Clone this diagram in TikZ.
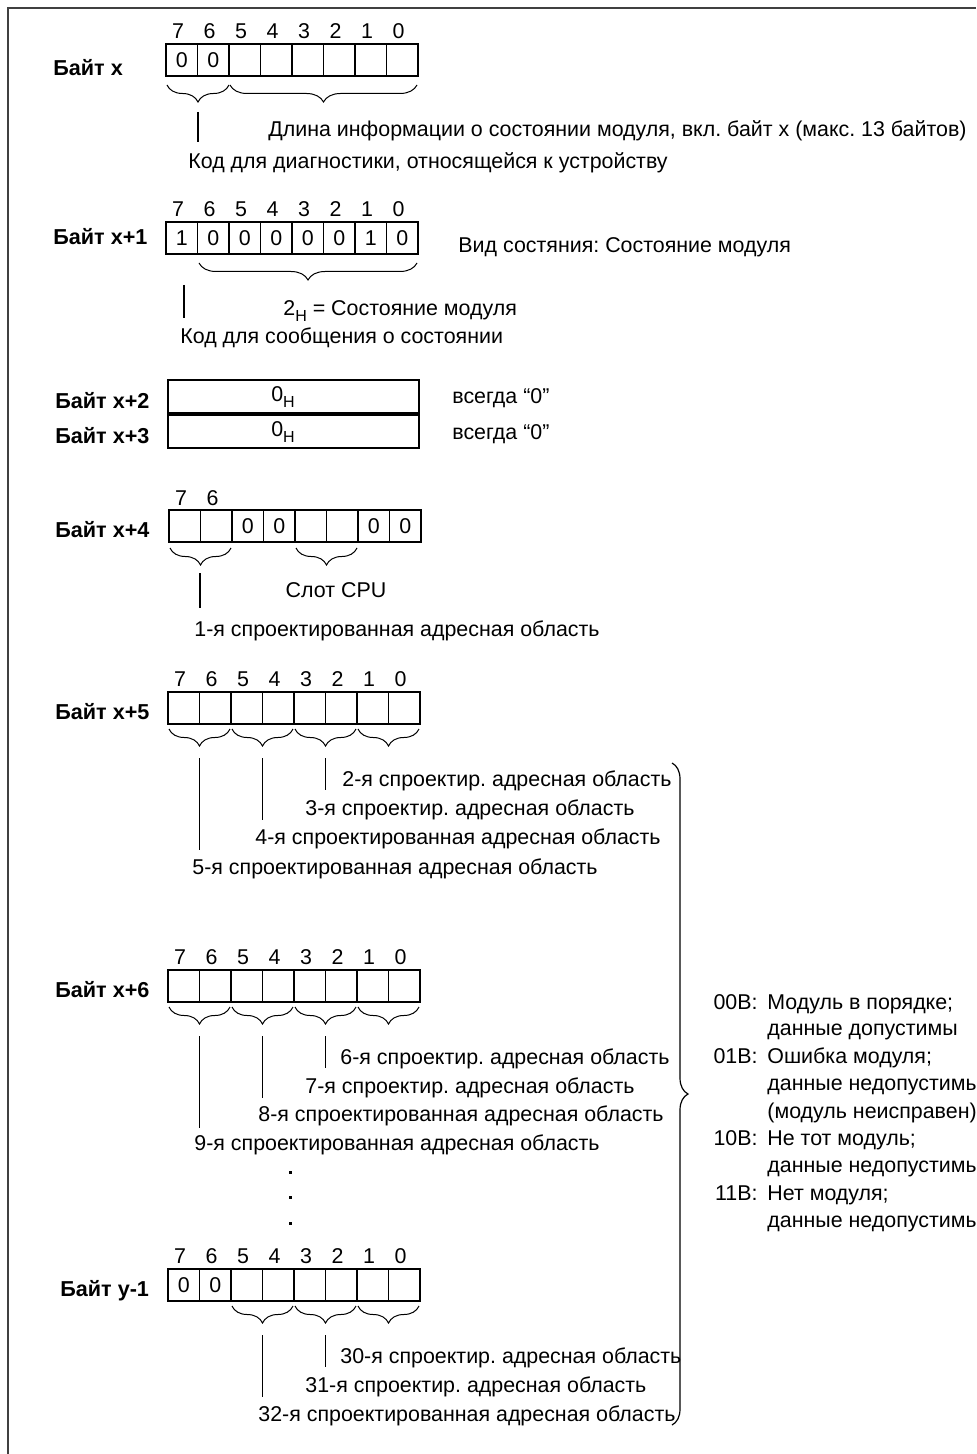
\documentclass[tikz,border=0pt]{standalone}
\usepackage{fontspec}
\setmainfont{Liberation Sans}
\usetikzlibrary{decorations.pathreplacing}
\frenchspacing

\tikzset{
  txt/.style={anchor=west, inner sep=0pt, text height=1.5ex, text depth=0.25ex},
  code/.style={anchor=east, inner sep=0pt, text height=1.5ex, text depth=0.25ex},
  bytelbl/.style={txt, font=\fontsize{10.8}{13}\selectfont\bfseries},
  bitnum/.style={inner sep=0pt},
  cellval/.style={inner sep=0pt},
  cell/.style={line width=0.6pt},
  brc/.style={decorate, decoration={brace, amplitude=8.5pt, mirror}, line width=0.5pt},
  bigbrc/.style={decorate, decoration={brace, amplitude=8pt}, line width=0.6pt},
  lead/.style={line width=0.7pt},
}

\newcommand{\hsub}[1]{\raisebox{-0.5ex}{\footnotesize #1}}
\newcommand{\bytecells}[2]{%
  \draw[cell] (#1,#2) rectangle ++(252,32);
  \foreach \i in {1,...,7} \draw[cell] ({#1+31.5*\i},#2) -- ++(0,32);
}
\newcommand{\bitrow}[3]{%
  \foreach \b [count=\i from 0] in {7,6,...,0}
    \node[bitnum] (#1\b) at ({#2+12+31.5*\i},#3) {\b};
}
\newcommand{\cellvals}[4]{%
  \foreach \v [count=\i from 0] in {#4}
    \node[cellval] (#1v\i) at ({#2+15.75+31.5*\i},#3) {\v};
}

\begin{document}
\begin{tikzpicture}[x=0.5pt, y=-0.5pt, font=\fontsize{10.7}{12.8}\selectfont]
\useasboundingbox (0,0) rectangle (976,1454);
\clip (0,0) rectangle (976,1454);
\draw[line width=1pt, black!75] (8,1454) -- (8,8) -- (976,8);

% Byte x
\node[bytelbl] (lx) at (53,69) {Байт x};
\bytecells{166}{44}
\bitrow{b0}{166}{31}
\cellvals{b0}{166}{60}{0,0}
\draw[brc] (167,85) -- (229,85);
\draw[brc] (230,85) -- (417,85);
\coordinate (b0a) at (198,112);
\coordinate (b0b) at (198,142);
\draw[lead] (b0a) -- (b0b);
\node[txt] (lenx) at (268,130) {Длина информации о состоянии модуля, вкл. байт х (макс. 13 байтов)};
\node[txt] (diag) at (188,162) {Код для диагностики, относящейся к устройству};

% Byte x+1
\node[bytelbl] (lx1) at (53,238) {Байт x+1};
\bytecells{166}{222}
\bitrow{b1}{166}{209}
\cellvals{b1}{166}{238}{1,0,0,0,0,0,1,0}
\draw[brc] (199,263) -- (417,263);
\coordinate (b1a) at (184,285);
\coordinate (b1b) at (184,318);
\draw[lead] (b1a) -- (b1b);
\node[txt] (kind) at (458,246) {Вид состяния: Состояние модуля};
\node[txt] (stat) at (283,309) {2\hsub{H} = Состояние модуля};
\node[txt] (msg) at (180,337) {Код для сообщения о состоянии};

% Byte x+2, x+3
\node[bytelbl] (lx2) at (55,402) {Байт x+2};
\node[bytelbl] (lx3) at (55,437) {Байт x+3};
\draw[cell] (168,380) rectangle (419,413);
\draw[cell] (168,415) rectangle (419,448);
\node[cellval] (b2v) at (283,397) {0\hsub{H}};
\node[cellval] (b3v) at (283,432) {0\hsub{H}};
\node[txt] (alw2) at (452,397) {всегда “0”};
\node[txt] (alw3) at (452,433) {всегда “0”};

% Byte x+4
\node[bytelbl] (lx4) at (55,531) {Байт x+4};
\bytecells{169}{510}
\node[bitnum] (b47) at (181,498) {7};
\node[bitnum] (b46) at (212.5,498) {6};
\node[cellval] (b4v5) at (247.75,526) {0};
\node[cellval] (b4v4) at (279.25,526) {0};
\node[cellval] (b4v1) at (373.75,526) {0};
\node[cellval] (b4v0) at (405.25,526) {0};
\draw[brc] (170,548) -- (231,548);
\draw[brc] (296,548) -- (357,548);
\coordinate (b4a) at (200,573);
\coordinate (b4b) at (200,608);
\draw[lead] (b4a) -- (b4b);
\node[inner sep=0pt] (cpu) at (336,590) {Слот CPU};
\node[txt] (ar1) at (194,630) {1-я спроектированная адресная область};

% Byte x+5
\node[bytelbl] (lx5) at (55,713) {Байт x+5};
\bytecells{168}{692}
\bitrow{b5}{168}{679}
\foreach \k in {0,...,3} \draw[brc] ({169+63*\k},729) -- ({167+63*(\k+1)},729);
\coordinate (b5a) at (325.5,758);
\coordinate (b5b) at (325.5,790);
\coordinate (b5c) at (262.5,758);
\coordinate (b5d) at (262.5,820);
\coordinate (b5e) at (199.5,758);
\coordinate (b5f) at (199.5,850);
\draw[lead] (b5a) -- (b5b);
\draw[lead] (b5c) -- (b5d);
\draw[lead] (b5e) -- (b5f);
\node[txt] (ar2) at (342,780) {2-я спроектир. адресная область};
\node[txt] (ar3) at (305,809) {3-я спроектир. адресная область};
\node[txt] (ar4) at (255,838) {4-я спроектированная адресная область};
\node[txt] (ar5) at (192,868) {5-я спроектированная адресная область};

% Byte x+6
\node[bytelbl] (lx6) at (55,991) {Байт x+6};
\bytecells{168}{970}
\bitrow{b6}{168}{957}
\foreach \k in {0,...,3} \draw[brc] ({169+63*\k},1007) -- ({167+63*(\k+1)},1007);
\coordinate (b6a) at (325.5,1036);
\coordinate (b6b) at (325.5,1068);
\coordinate (b6c) at (262.5,1036);
\coordinate (b6d) at (262.5,1098);
\coordinate (b6e) at (199.5,1036);
\coordinate (b6f) at (199.5,1128);
\draw[lead] (b6a) -- (b6b);
\draw[lead] (b6c) -- (b6d);
\draw[lead] (b6e) -- (b6f);
\node[txt] (ar6) at (340,1058) {6-я спроектир. адресная область};
\node[txt] (ar7) at (305,1087) {7-я спроектир. адресная область};
\node[txt] (ar8) at (258,1115) {8-я спроектированная адресная область};
\node[txt] (ar9) at (194,1144) {9-я спроектированная адресная область};

\fill (288.5,1170.5) rectangle ++(3,3);
\fill (288.5,1195.5) rectangle ++(3,3);
\fill (288.5,1221.5) rectangle ++(3,3);

% Byte y-1
\node[bytelbl] (ly) at (60,1290) {Байт y-1};
\bytecells{168}{1269}
\bitrow{by}{168}{1256}
\cellvals{by}{168}{1285}{0,0}
\foreach \k in {1,...,3} \draw[brc] ({169+63*\k},1306) -- ({167+63*(\k+1)},1306);
\coordinate (bya) at (325.5,1335);
\coordinate (byb) at (325.5,1367);
\coordinate (byc) at (262.5,1335);
\coordinate (byd) at (262.5,1397);
\draw[lead] (bya) -- (byb);
\draw[lead] (byc) -- (byd);
\node[txt] (ar30) at (340,1357) {30-я спроектир. адресная область};
\node[txt] (ar31) at (305,1386) {31-я спроектир. адресная область};
\node[txt] (ar32) at (258,1415) {32-я спроектированная адресная область};

% status codes
\draw[bigbrc] (672,763) -- (672,1425);
\node[code] (c00) at (758,1003) {00B:};
\node[txt] (s00a) at (767,1003) {Модуль в порядке;};
\node[txt] (s00b) at (767,1029) {данные допустимы};
\node[code] (c01) at (758,1057) {01B:};
\node[txt] (s01a) at (767,1057) {Ошибка модуля;};
\node[txt] (s01b) at (767,1084) {данные недопустимы};
\node[txt] (s01c) at (767,1112) {(модуль неисправен)};
\node[code] (c10) at (758,1139) {10B:};
\node[txt] (s10a) at (767,1139) {Не тот модуль;};
\node[txt] (s10b) at (767,1166) {данные недопустимы};
\node[code] (c11) at (758,1194) {11B:};
\node[txt] (s11a) at (767,1194) {Нет модуля;};
\node[txt] (s11b) at (767,1221) {данные недопустимы};
\end{tikzpicture}
\end{document}
